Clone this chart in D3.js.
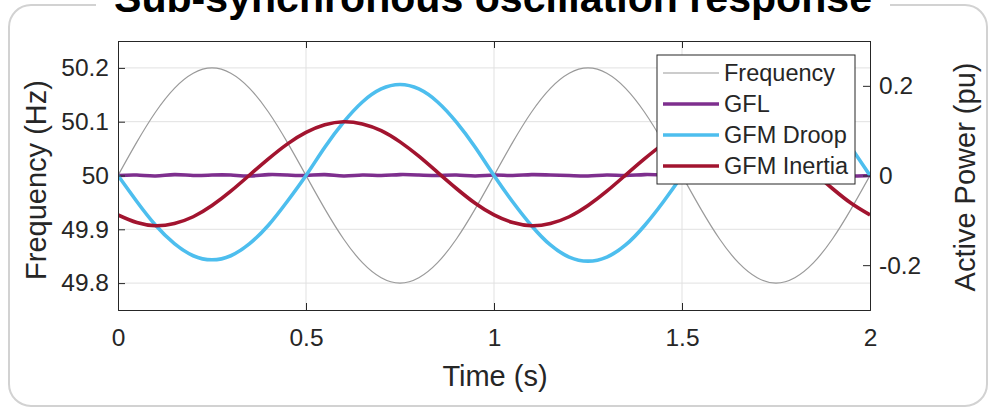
<!DOCTYPE html>
<html>
<head>
<meta charset="utf-8">
<script src="https://cdn.jsdelivr.net/npm/d3@7"></script>
<style>
  body { margin: 0; background: #fff; }
  text { font-family: "Liberation Sans", Arial, sans-serif; fill: #262626; }
</style>
</head>
<body>
<div id="chart"></div>
<script>
var timeS = [0, 0.05, 0.1, 0.15, 0.2, 0.25, 0.3, 0.35, 0.4, 0.45, 0.5, 0.55, 0.6, 0.65, 0.7, 0.75, 0.8, 0.85, 0.9, 0.95,
  1, 1.05, 1.1, 1.15, 1.2, 1.25, 1.3, 1.35, 1.4, 1.45, 1.5, 1.55, 1.6, 1.65, 1.7, 1.75, 1.8, 1.85, 1.9, 1.95, 2];

var freqHz = [50.000, 50.062, 50.118, 50.162, 50.190, 50.200, 50.190, 50.162, 50.118, 50.062,
  50.000, 49.938, 49.882, 49.838, 49.810, 49.800, 49.810, 49.838, 49.882, 49.938,
  50.000, 50.062, 50.118, 50.162, 50.190, 50.200, 50.190, 50.162, 50.118, 50.062,
  50.000, 49.938, 49.882, 49.838, 49.810, 49.800, 49.810, 49.838, 49.882, 49.938, 50.000];

var gflPu = [0.000, 0.001, -0.001, 0.002, 0.000, 0.001, 0.001, -0.001, 0.002, 0.001,
  0.000, 0.002, -0.001, 0.001, 0.000, 0.002, 0.001, 0.000, 0.001, -0.001,
  0.001, 0.000, 0.002, 0.001, 0.000, -0.001, 0.001, 0.000, 0.002, 0.001,
  0.000, 0.001, -0.001, 0.000, 0.001, 0.000, 0.002, 0.000, 0.001, -0.001, 0.000];

var droopPu = [0.000, -0.058, -0.111, -0.152, -0.179, -0.188, -0.179, -0.152, -0.111, -0.058,
  0.000, 0.063, 0.119, 0.164, 0.193, 0.203, 0.193, 0.164, 0.119, 0.063,
  0.000, -0.059, -0.112, -0.155, -0.182, -0.191, -0.182, -0.155, -0.112, -0.059,
  0.000, 0.062, 0.118, 0.162, 0.190, 0.200, 0.190, 0.162, 0.118, 0.062, 0.000];

var inertiaPu = [-0.088, -0.105, -0.112, -0.107, -0.092, -0.067, -0.035, 0.001, 0.037, 0.070,
  0.096, 0.113, 0.120, 0.115, 0.100, 0.075, 0.043, 0.007, -0.029, -0.062,
  -0.088, -0.105, -0.112, -0.107, -0.092, -0.067, -0.035, 0.001, 0.037, 0.070,
  0.096, 0.113, 0.120, 0.115, 0.100, 0.075, 0.043, 0.007, -0.029, -0.062, -0.088];

var xTicks = [0, 0.5, 1, 1.5, 2];
var leftTicks = [49.8, 49.9, 50, 50.1, 50.2];
var rightTicks = [-0.2, 0, 0.2];
var seriesNames = ["Frequency", "GFL", "GFM Droop", "GFM Inertia"];
var seriesColors = ["#9a9a9a", "#7e2f8e", "#4dbeee", "#a2142f"];

var W = 992, H = 408;
var margin = {top: 41, right: 122, bottom: 98, left: 118};
var width = W - margin.left - margin.right,
    height = H - margin.top - margin.bottom;

var plain = function(d) { return String(d); };

var svg = d3.select("#chart").append("svg")
  .attr("width", W)
  .attr("height", H);

// rounded panel border with the title sitting on it
svg.append("rect")
  .attr("x", 9).attr("y", 5)
  .attr("width", 978).attr("height", 401)
  .attr("rx", 22)
  .attr("fill", "none")
  .attr("stroke", "#d2d2d2")
  .attr("stroke-width", 2);
svg.append("rect")
  .attr("x", 96).attr("y", 0)
  .attr("width", 794).attr("height", 20)
  .attr("fill", "#fff");
svg.append("text")
  .attr("x", 493).attr("y", 12)
  .attr("text-anchor", "middle")
  .attr("font-size", "41px")
  .attr("font-weight", "bold")
  .attr("textLength", 758)
  .attr("lengthAdjust", "spacingAndGlyphs")
  .style("fill", "#000")
  .text("Sub-synchronous oscillation response");

var g = svg.append("g").attr("transform", "translate(" + margin.left + "," + margin.top + ")");

var x = d3.scaleLinear().domain([0, 2]).range([0, width]);
var yL = d3.scaleLinear().domain([49.75, 50.25]).range([height, 0]);
var yR = d3.scaleLinear().domain([-0.3, 0.3]).range([height, 0]);

g.append("rect").attr("width", width).attr("height", height).attr("fill", "#fff");

// grid
g.append("g").selectAll("line")
  .data(leftTicks).enter().append("line")
  .attr("x1", 0).attr("x2", width)
  .attr("y1", function(d) { return yL(d); })
  .attr("y2", function(d) { return yL(d); })
  .attr("stroke", "#e1e1e1");
g.append("g").selectAll("line")
  .data(xTicks.slice(1, -1)).enter().append("line")
  .attr("y1", 0).attr("y2", height)
  .attr("x1", function(d) { return x(d); })
  .attr("x2", function(d) { return x(d); })
  .attr("stroke", "#e1e1e1");

g.append("clipPath").attr("id", "plotclip")
  .append("rect").attr("width", width).attr("height", height);

var plot = g.append("g").attr("clip-path", "url(#plotclip)");

var lineL = d3.line()
  .x(function(d, i) { return x(timeS[i]); })
  .y(function(d) { return yL(d); })
  .curve(d3.curveNatural);
var lineR = d3.line()
  .x(function(d, i) { return x(timeS[i]); })
  .y(function(d) { return yR(d); })
  .curve(d3.curveNatural);

plot.append("path").datum(freqHz)
  .attr("d", lineL)
  .attr("fill", "none")
  .attr("stroke", seriesColors[0])
  .attr("stroke-width", 1.2);

[gflPu, droopPu, inertiaPu].forEach(function(s, i) {
  plot.append("path").datum(s)
    .attr("d", lineR)
    .attr("fill", "none")
    .attr("stroke", seriesColors[i + 1])
    .attr("stroke-width", 3.6)
    .attr("stroke-linejoin", "round");
});

// axes (MATLAB style, ticks inside)
var tick = 7;
g.append("g")
  .attr("class", "axis")
  .attr("transform", "translate(0," + height + ")")
  .call(d3.axisBottom(x).tickValues(xTicks).tickSize(-tick).tickPadding(19).tickFormat(plain));
g.append("g")
  .attr("class", "axis")
  .call(d3.axisTop(x).tickValues(xTicks).tickSize(-tick).tickFormat(""));
g.append("g")
  .attr("class", "axis")
  .call(d3.axisLeft(yL).tickValues(leftTicks).tickSize(-tick).tickPadding(9).tickFormat(plain));
g.append("g")
  .attr("class", "axis")
  .attr("transform", "translate(" + width + ",0)")
  .call(d3.axisRight(yR).tickValues(rightTicks).tickSize(-tick).tickPadding(9).tickFormat(plain));

g.selectAll(".axis path").attr("stroke", "#262626");
g.selectAll(".axis line").attr("stroke", "#262626");
g.selectAll(".axis text")
  .attr("font-size", "24.5px")
  .attr("font-family", "Liberation Sans, Arial, sans-serif")
  .style("fill", "#262626");

// axis labels
svg.append("text")
  .attr("x", 495).attr("y", 386)
  .attr("text-anchor", "middle")
  .attr("font-size", "29px")
  .text("Time (s)");
svg.append("text")
  .attr("transform", "translate(46,180) rotate(-90)")
  .attr("text-anchor", "middle")
  .attr("font-size", "29px")
  .text("Frequency (Hz)");
svg.append("text")
  .attr("transform", "translate(975,177) rotate(-90)")
  .attr("text-anchor", "middle")
  .attr("font-size", "29px")
  .text("Active Power (pu)");

// legend
var lg = svg.append("g").attr("transform", "translate(657,55)");
lg.append("rect")
  .attr("width", 198).attr("height", 129)
  .attr("fill", "#fff")
  .attr("stroke", "#262626")
  .attr("stroke-width", 1);
var item = lg.selectAll(".item")
  .data(seriesNames).enter().append("g")
  .attr("class", "item")
  .attr("transform", function(d, i) { return "translate(0," + (18 + i * 31) + ")"; });
item.append("line")
  .attr("x1", 6).attr("x2", 62)
  .attr("stroke", function(d, i) { return seriesColors[i]; })
  .attr("stroke-width", function(d, i) { return i === 0 ? 1.2 : 3.6; });
item.append("text")
  .attr("x", 67)
  .attr("dy", "0.35em")
  .attr("font-size", "23.5px")
  .text(function(d) { return d; });
</script>
</body>
</html>
